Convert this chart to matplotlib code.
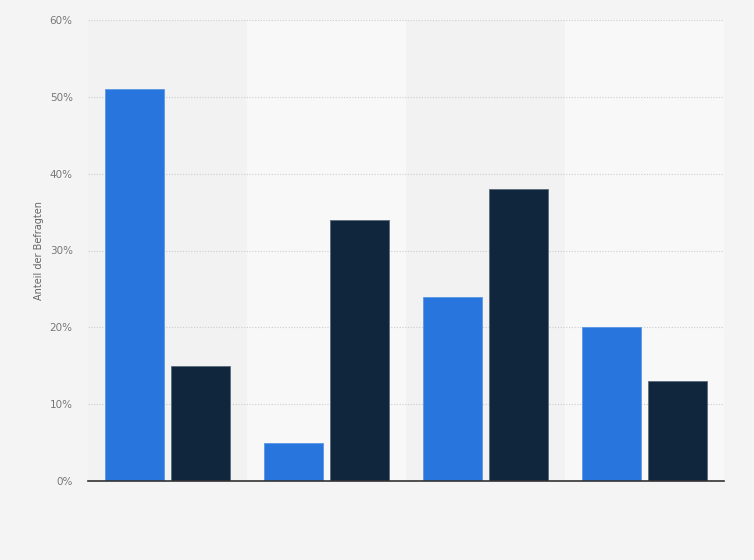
import numpy as np
import matplotlib.pyplot as plt

# data
groups = ['1', '2', '3', '4']
series_a = [51, 5, 24, 20]
series_b = [15, 34, 38, 13]
yticks = [0, 10, 20, 30, 40, 50, 60]

blue = '#2876dd'
navy = '#0f263d'

fig = plt.figure(figsize=(7.54, 5.6), dpi=100, facecolor='#f4f4f4')
ax = fig.add_axes([88/754, 1 - 481/560, (724 - 88)/754, 461/560])
ax.set_facecolor('#f2f2f2')

x = np.arange(len(groups))
w = 0.377
off = 0.2075

# alternating background bands
for i in x:
    col = '#f2f2f2' if i % 2 == 0 else '#f8f8f8'
    ax.axvspan(i - 0.5, i + 0.5, color=col, zorder=0, lw=0)

ax.bar(x - off, series_a, width=w, color=blue, edgecolor='#5a97e6',
       linewidth=0.6, zorder=3)
ax.bar(x + off, series_b, width=w, color=navy, edgecolor='#5d6b7a',
       linewidth=0.6, zorder=3)

ax.set_xlim(-0.5, len(groups) - 0.5)
ax.set_ylim(0, 60)
ax.set_yticks(yticks)
ax.set_yticklabels([f'{t}%' for t in yticks], color='#777777', fontsize=7.5)
ax.set_xticks([])
ax.tick_params(axis='y', length=0, pad=11)

ax.grid(axis='y', color='#cccccc', linestyle=(0, (1, 1.5)), linewidth=0.8,
        zorder=1)
for s in ['top', 'right', 'left']:
    ax.spines[s].set_visible(False)
ax.spines['bottom'].set_color('#333333')
ax.spines['bottom'].set_linewidth(1.2)
ax.spines['bottom'].set_zorder(4)

ax.set_ylabel('Anteil der Befragten', color='#666666', fontsize=7, labelpad=4)

fig.savefig('out.png', dpi=100, facecolor=fig.get_facecolor())
